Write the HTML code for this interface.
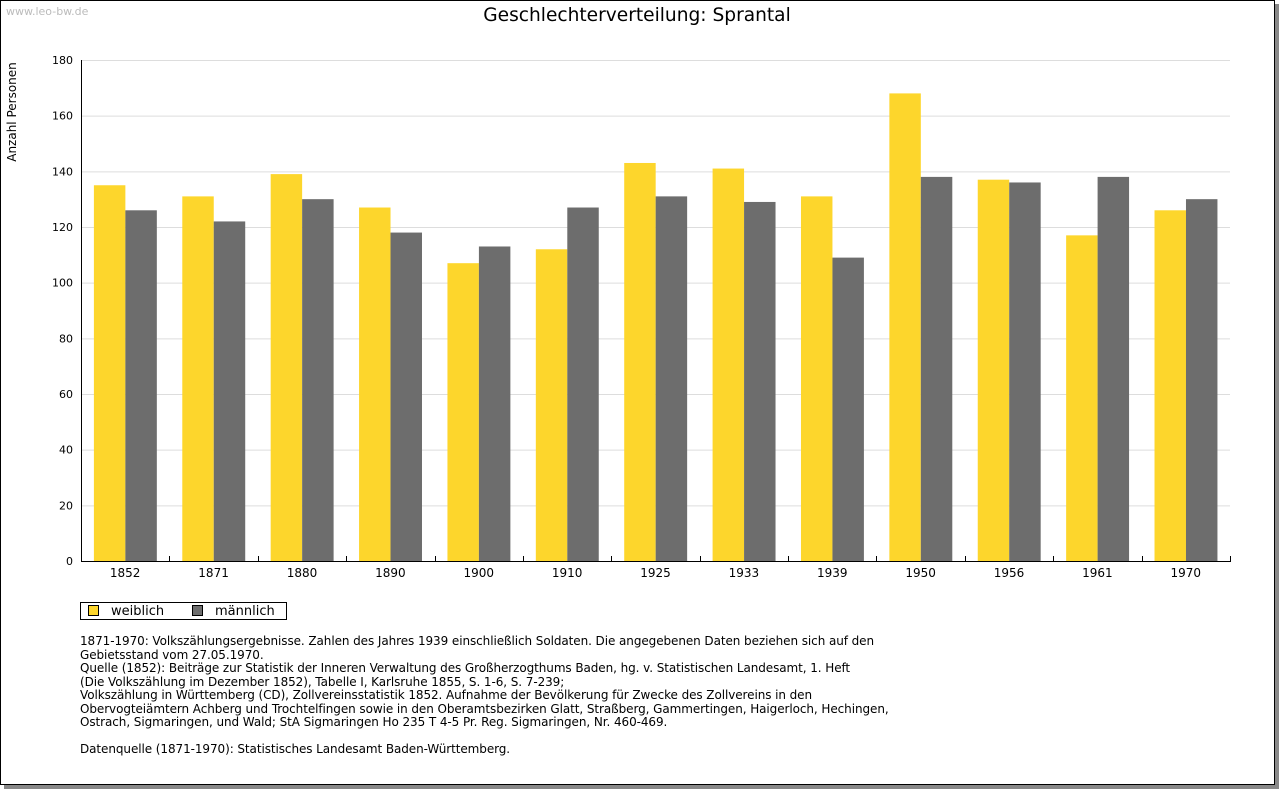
<!DOCTYPE html>
<html><head><meta charset="utf-8"><style>
body{margin:0;background:#fff;font-family:"DejaVu Sans","Liberation Sans",sans-serif;}
#frame{position:absolute;left:0;top:0;width:1273px;height:783px;border:1px solid #000;border-left:1px solid #000;box-shadow:4px 4px 0 #888;background:#fff;}
.note{position:absolute;left:80px;top:635px;font-size:12px;line-height:13.5px;color:#000;white-space:pre;letter-spacing:-0.08px;}
</style></head><body>
<div id="frame"></div>
<svg id="c" width="1280" height="791" style="position:absolute;left:0;top:0" font-family="DejaVu Sans, Liberation Sans, sans-serif">
<text x="6" y="15" font-size="11" fill="#bbb">www.leo-bw.de</text>
<text x="637" y="21" font-size="18.6" text-anchor="middle">Geschlechterverteilung: Sprantal</text>
<text transform="translate(16,112) rotate(-90)" font-size="12" text-anchor="middle">Anzahl Personen</text>
<g id="grid"></g><g id="bars"></g><g id="axes"></g>
<g>
<rect x="80.5" y="602.5" width="206" height="17" fill="#fff" stroke="#000"/>
<rect x="88.5" y="605.5" width="10" height="10" fill="#fdd62c" stroke="#000"/>
<text x="111" y="615" font-size="13">weiblich</text>
<rect x="192.5" y="605.5" width="10" height="10" fill="#6d6d6d" stroke="#000"/>
<text x="215" y="615" font-size="13">männlich</text>
</g>
</svg>
<div class="note">1871-1970: Volkszählungsergebnisse. Zahlen des Jahres 1939 einschließlich Soldaten. Die angegebenen Daten beziehen sich auf den
Gebietsstand vom 27.05.1970.
Quelle (1852): Beiträge zur Statistik der Inneren Verwaltung des Großherzogthums Baden, hg. v. Statistischen Landesamt, 1. Heft
(Die Volkszählung im Dezember 1852), Tabelle I, Karlsruhe 1855, S. 1-6, S. 7-239;
Volkszählung in Württemberg (CD), Zollvereinsstatistik 1852. Aufnahme der Bevölkerung für Zwecke des Zollvereins in den
Obervogteiämtern Achberg und Trochtelfingen sowie in den Oberamtsbezirken Glatt, Straßberg, Gammertingen, Haigerloch, Hechingen,
Ostrach, Sigmaringen, und Wald; StA Sigmaringen Ho 235 T 4-5 Pr. Reg. Sigmaringen, Nr. 460-469.

Datenquelle (1871-1970): Statistisches Landesamt Baden-Württemberg.</div>
<script>
const categories=["1852","1871","1880","1890","1900","1910","1925","1933","1939","1950","1956","1961","1970"];
const weiblich=[135,131,139,127,107,112,143,141,131,168,137,117,126];
const maennlich=[126,122,130,118,113,127,131,129,109,138,136,138,130];
const yTicks=[0,20,40,60,80,100,120,140,160,180];
const NS="http://www.w3.org/2000/svg";
const L=81,R=1230,T=60,B=561,YMAX=180;
const y=v=>B-(v/YMAX)*(B-T);
const bw=(R-L)/categories.length;
const x=i=>L+i*bw;
function mk(tag,at,parent,txt){const e=document.createElementNS(NS,tag);for(const k in at)e.setAttribute(k,at[k]);if(txt!==undefined)e.textContent=txt;document.getElementById(parent).appendChild(e);return e;}
yTicks.forEach(t=>{
 if(t>0){const g=mk('line',{x1:L,x2:R,y1:y(t)+0.5,y2:y(t)+0.5,stroke:'#ddd'},'grid');
 
 }
 const lb=mk('text',{x:L-8,y:y(t)+4,'font-size':11,'text-anchor':'end'},'axes',t);
 
 
});
categories.forEach((c,i)=>{
 const w=bw*0.356,x0=x(i)+bw*0.146;
 const a=mk('rect',{x:x0,y:y(weiblich[i]),width:w,height:B-y(weiblich[i]),fill:'#fdd62c'},'bars');
 
 
 const b=mk('rect',{x:x0+w,y:y(maennlich[i]),width:w,height:B-y(maennlich[i]),fill:'#6d6d6d'},'bars');
 
 
 const lb=mk('text',{x:x(i)+bw/2,y:B+16,'font-size':12,'text-anchor':'middle'},'axes',c);
 
 
 if(i>0){const tk=mk('line',{x1:Math.round(x(i))+0.5,x2:Math.round(x(i))+0.5,y1:B-5,y2:B,stroke:'#000'},'axes');
 
 }
});
const ax=mk('path',{d:`M${L+0.5},${T} V${B+0.5} H${R+0.5} V${B-5}`,fill:'none',stroke:'#000'},'axes');


</script>
</body></html>
